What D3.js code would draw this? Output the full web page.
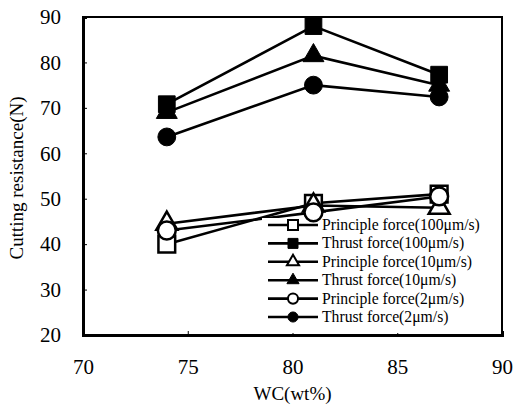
<!DOCTYPE html>
<html lang="en">
<head>
<meta charset="utf-8" />
<title>Cutting resistance</title>
<script src="https://d3js.org/d3.v7.min.js"></script>
<style>
body { margin:0; background:#fff; }
text { font-family:"Liberation Serif","Times New Roman",serif; fill:#000; }
</style>
</head>
<body>
<div id="chart"></div>
<script type="text/javascript">
// data
var wc = [74, 81, 87];
var principle100 = [40.0, 49.0, 51.0];
var thrust100    = [70.8, 88.0, 77.3];
var principle10  = [44.5, 48.5, 48.0];
var thrust10     = [69.0, 81.5, 75.0];
var principle2   = [43.0, 47.0, 50.5];
var thrust2      = [63.6, 75.0, 72.4];
var xTicks = [70, 75, 80, 85, 90];
var yTicks = [20, 30, 40, 50, 60, 70, 80, 90];

var series = [
  {name:"Principle force(100\u03bcm/s)", vals:principle100, shape:"square",   fill:"#fff"},
  {name:"Thrust force(100\u03bcm/s)",    vals:thrust100,    shape:"square",   fill:"#000"},
  {name:"Principle force(10\u03bcm/s)",  vals:principle10,  shape:"triangle", fill:"#fff"},
  {name:"Thrust force(10\u03bcm/s)",     vals:thrust10,     shape:"triangle", fill:"#000"},
  {name:"Principle force(2\u03bcm/s)",   vals:principle2,   shape:"circle",   fill:"#fff"},
  {name:"Thrust force(2\u03bcm/s)",      vals:thrust2,      shape:"circle",   fill:"#000"}
];

var W = 513, H = 408;
var m = {left:83, top:17, right:11, bottom:73};

var x = d3.scaleLinear().domain([70, 90]).range([m.left, W - m.right]);
var y = d3.scaleLinear().domain([20, 90]).range([H - m.bottom, m.top]);

var svg = d3.select("#chart").append("svg")
    .attr("width", W)
    .attr("height", H);

function symbolFor(shape, size) {
  var t = shape=="square" ? d3.symbolSquare : shape=="triangle" ? d3.symbolTriangle : d3.symbolCircle;
  return d3.symbol().type(t).size(size)();
}

// frame
svg.append("rect")
   .attr("x", m.left).attr("y", m.top)
   .attr("width", W - m.right - m.left).attr("height", H - m.bottom - m.top)
   .attr("fill", "none").attr("stroke", "#000").attr("stroke-width", 2);

// axes
var yAxis = d3.axisLeft(y).tickValues(yTicks).tickSize(-4).tickPadding(22);
var gy = svg.append("g").attr("transform", "translate(" + m.left + ",0)").call(yAxis);
var xAxis = d3.axisBottom(x).tickValues(xTicks).tickSize(-4).tickPadding(24);
var gx = svg.append("g").attr("transform", "translate(0," + (H - m.bottom) + ")").call(xAxis);
[gy, gx].forEach(function (g) {
  g.select(".domain").attr("stroke-width", 3);
  g.selectAll(".tick line").attr("stroke-width", 1);
  g.selectAll("text").attr("font-size", 21).style("font-family", "Liberation Serif, serif");
});

// lines
var line = d3.line().x(function (d, i) { return x(wc[i]); }).y(function (d) { return y(d); });
series.forEach(function (s) {
  svg.append("path")
     .attr("d", line(s.vals))
     .attr("fill", "none").attr("stroke", "#000").attr("stroke-width", 2.6);
});

// legend box (hides the lines behind it)
var lg = svg.append("g");
lg.append("rect")
  .attr("x", 262).attr("y", 218).attr("width", 238).attr("height", 115)
  .attr("fill", "#fff");

// markers
series.forEach(function (s) {
  svg.selectAll(null).data(s.vals).enter().append("path")
     .attr("transform", function (d, i) { return "translate(" + x(wc[i]) + "," + y(d) + ")"; })
     .attr("d", symbolFor(s.shape, s.shape=="circle" ? 250 : s.shape=="square" ? 280 : 190))
     .attr("fill", s.fill).attr("stroke", "#000").attr("stroke-width", s.fill=="#fff" ? 2.5 : 1);
});

// legend entries
var lg2 = svg.append("g");
series.forEach(function (s, i) {
  var ly = 225 + i * 18.4;
  lg2.append("line").attr("x1", 268).attr("x2", 318).attr("y1", ly).attr("y2", ly)
    .attr("stroke", "#000").attr("stroke-width", 2.6);
  lg2.append("path")
    .attr("transform", "translate(293," + ly + ")")
    .attr("d", symbolFor(s.shape, s.shape=="triangle" ? 64 : s.shape=="square" ? 100 : 80))
    .attr("fill", s.fill).attr("stroke", "#000").attr("stroke-width", s.fill=="#fff" ? 2 : 1);
  lg2.append("text").attr("x", 322).attr("y", ly + 5)
    .attr("font-size", 15.7).text(s.name);
});

// axis titles
svg.append("text")
   .attr("x", x(80)).attr("y", 400)
   .attr("text-anchor", "middle").attr("font-size", 19)
   .text("WC(wt%)");
svg.append("text")
   .attr("transform", "translate(23," + 178 + ") rotate(-90)")
   .attr("text-anchor", "middle").attr("font-size", 19)
   .text("Cutting resistance(N)");
</script>
</body>
</html>
